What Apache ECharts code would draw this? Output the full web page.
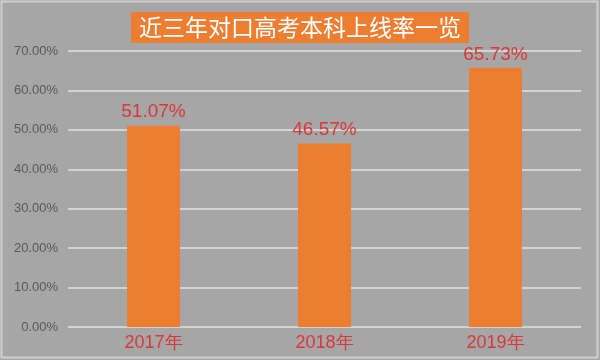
<!DOCTYPE html>
<html><head><meta charset="utf-8">
<script src="https://cdn.jsdelivr.net/npm/echarts@6/dist/echarts.min.js"></script>
<style>html,body{margin:0;padding:0;background:#a6a6a6}#c{width:600px;height:360px}</style>
</head><body><div id="c"></div>
<script>
const titleText = '近三年对口高考本科上线率一览';
const categories = ['2017年', '2018年', '2019年'];
const rates = [51.07, 46.57, 65.73];
const yTicks = { min: 0, max: 70, interval: 10 };

const chart = echarts.init(document.getElementById('c'), null, { renderer: 'canvas' });
chart.setOption({
  backgroundColor: '#a6a6a6',
  animation: false,
  title: {
    text: titleText,
    left: 'center',
    top: 12,
    padding: [4, 8, 4, 8],
    backgroundColor: '#ed7d31',
    textStyle: {
      fontFamily: 'Noto Sans CJK SC',
      fontWeight: 'normal',
      fontSize: 23,
      color: '#ffffff',
      lineHeight: 23
    }
  },
  graphic: [{
    type: 'rect', silent: true,
    shape: { x: 1.5, y: 1.5, width: 596, height: 356 },
    style: { fill: 'none', stroke: '#cfcfcf', lineWidth: 2 }
  }],
  grid: { left: 68, right: 19, top: 51, bottom: 33 },
  xAxis: {
    type: 'category',
    data: categories,
    axisLine: { show: false },
    axisTick: { show: false },
    axisLabel: { color: '#d93838', fontSize: 18, fontFamily: 'Liberation Sans', margin: 7 }
  },
  yAxis: {
    type: 'value',
    min: yTicks.min, max: yTicks.max, interval: yTicks.interval,
    axisLine: { show: false },
    axisTick: { show: false },
    axisLabel: {
      color: '#595959', fontSize: 13, fontFamily: 'Liberation Sans', margin: 10,
      formatter: v => v.toFixed(2) + '%'
    },
    splitLine: { lineStyle: { color: '#e2e2e2', width: 1.5 } }
  },
  series: [{
    type: 'bar',
    data: rates,
    barWidth: 53,
    itemStyle: { color: '#ed7d31' },
    label: {
      show: true, position: 'top', distance: 4,
      color: '#d93838', fontSize: 19, fontFamily: 'Liberation Sans',
      formatter: p => p.value.toFixed(2) + '%'
    }
  }]
});
</script></body></html>
